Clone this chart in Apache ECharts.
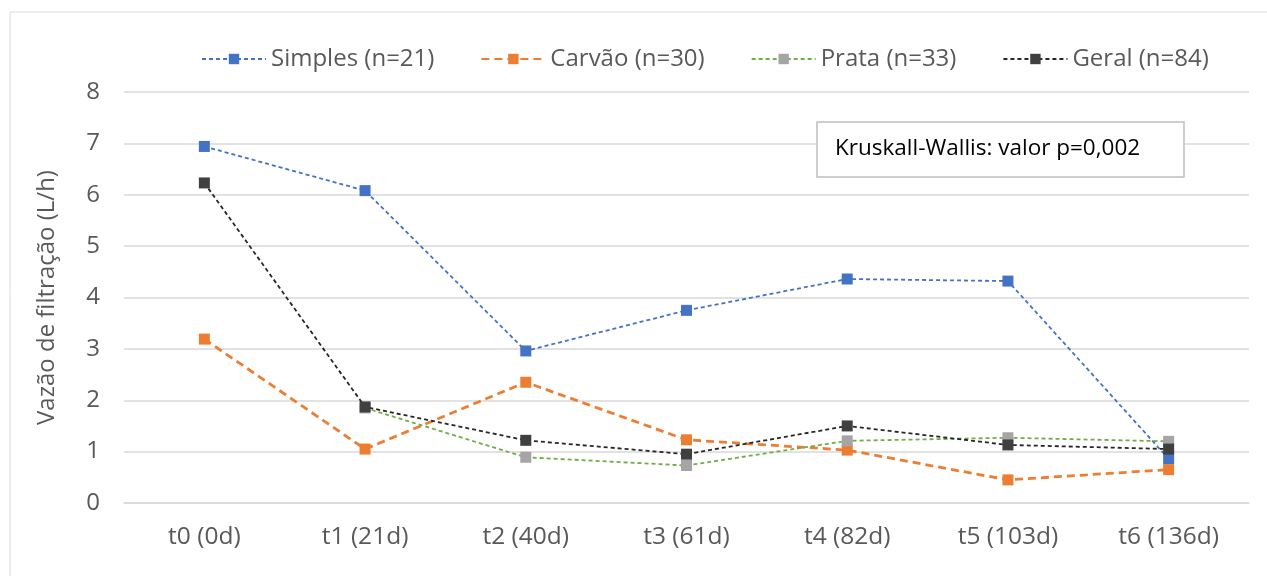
<!DOCTYPE html>
<html>
<head>
<meta charset="utf-8">
<script src="https://cdn.jsdelivr.net/npm/echarts@6/dist/echarts.min.js"></script>
<style>html,body{margin:0;padding:0;background:#fff}#c{width:1267px;height:576px}</style>
</head>
<body>
<div id="c"></div>
<script>
const categories = ['t0 (0d)', 't1 (21d)', 't2 (40d)', 't3 (61d)', 't4 (82d)', 't5 (103d)', 't6 (136d)'];
const simples = [6.94, 6.08, 2.96, 3.75, 4.36, 4.32, 0.86];
const carvao  = [3.19, 1.05, 2.35, 1.23, 1.03, 0.45, 0.65];
const prata   = [null, 1.85, 0.89, 0.73, 1.21, 1.27, 1.20];
const geral   = [6.23, 1.87, 1.22, 0.95, 1.50, 1.13, 1.05];
const seriesNames = ['Simples (n=21)', 'Carvão (n=30)', 'Prata (n=33)', 'Geral (n=84)'];
const yTicks = [0, 1, 2, 3, 4, 5, 6, 7, 8];
const annotation = 'Kruskall-Wallis: valor p=0,002';

const FONT = 'Open Sans';
const chart = echarts.init(document.getElementById('c'));
function mk(name, data, lineColor, markColor, width, dash, z) {
  return {
    name, type: 'line', data, z,
    symbol: 'rect', symbolSize: 11,
    connectNulls: false,
    lineStyle: { color: lineColor, width: width, type: dash },
    itemStyle: { color: markColor },
    emphasis: { disabled: true },
    animation: false
  };
}
chart.setOption({
  animation: false,
  textStyle: { fontFamily: FONT },
  graphic: [
    { type: 'rect', shape: { x: 10, y: 12, width: 1300, height: 620 }, style: { fill: 'none', stroke: '#d9d9d9', lineWidth: 1 }, z: -10 },
    { type: 'rect', shape: { x: 817, y: 122, width: 367, height: 55 }, style: { fill: '#fff', stroke: '#bfbfbf', lineWidth: 1.5 }, z: 100 },
    { type: 'text', x: 835, y: 149, style: { text: annotation, font: '22.5px "Open Sans"', fill: '#000', verticalAlign: 'middle' }, z: 101 }
  ],
  legend: {
    top: 42, left: 196,
    itemWidth: 64, itemHeight: 13, itemGap: 46,
    textStyle: { fontSize: 24, color: '#595959', fontFamily: FONT },
    data: seriesNames
  },
  grid: { left: 124, right: 18, top: 92, bottom: 73 },
  xAxis: {
    type: 'category', data: categories, boundaryGap: true,
    axisLine: { lineStyle: { color: '#d9d9d9', width: 1.5 } },
    axisTick: { show: false },
    axisLabel: { fontSize: 24.5, color: '#595959', margin: 22, fontFamily: FONT }
  },
  yAxis: {
    type: 'value', min: 0, max: 8, interval: 1,
    name: 'Vazão de filtração (L/h)', nameLocation: 'middle', nameGap: 65, nameRotate: 90,
    nameTextStyle: { fontSize: 24, color: '#595959', fontFamily: FONT },
    axisLine: { show: false }, axisTick: { show: false },
    axisLabel: { fontSize: 24, color: '#595959', margin: 24, fontFamily: FONT,
      formatter: v => yTicks.includes(v) ? String(v) : '' },
    splitLine: { lineStyle: { color: '#d9d9d9', width: 1.5 } }
  },
  series: [
    mk(seriesNames[0], simples, '#4472C4', '#4472C4', 1.8, [4, 3], 3),
    mk(seriesNames[1], carvao, '#ED7D31', '#ED7D31', 2.8, [8, 5], 4),
    mk(seriesNames[2], prata, '#70AD47', '#A5A5A5', 1.8, [4, 3], 5),
    mk(seriesNames[3], geral, '#262626', '#404040', 1.8, [4, 3], 6)
  ]
});
</script>
</body>
</html>
